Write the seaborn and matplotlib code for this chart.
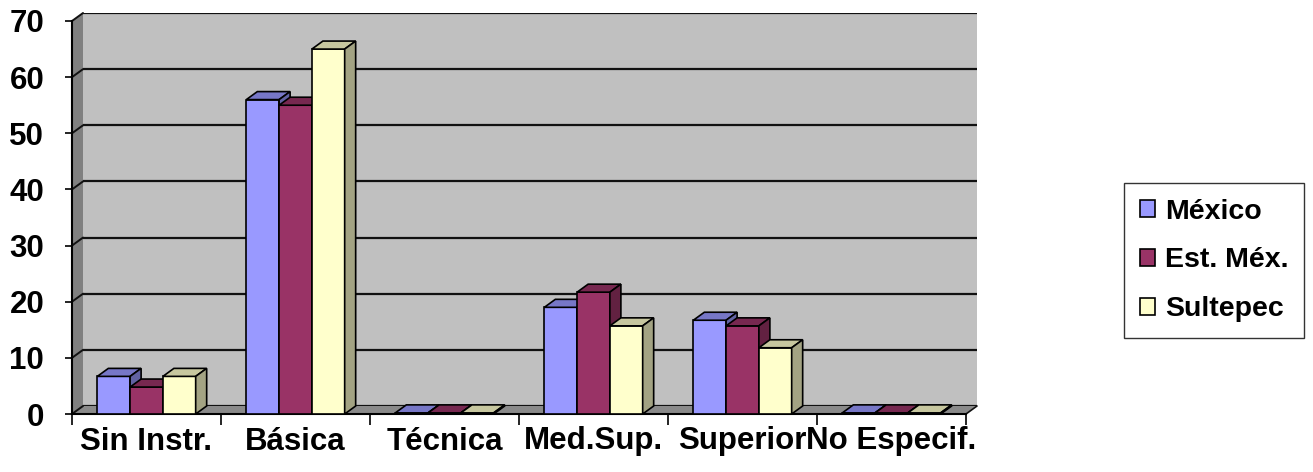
import matplotlib
matplotlib.use("Agg")
import matplotlib.pyplot as plt
from matplotlib.patches import Polygon, Patch
import matplotlib.colors as mcolors
import numpy as np
import pandas as pd
import seaborn as sns

# datos
categories = ["Sin Instr.", "Básica", "Técnica", "Med.Sup.", "Superior", "No Especif."]
series = ["México", "Est. Méx.", "Sultepec"]
mexico = [6.7, 56.0, 0.2, 19.0, 16.7, 0.2]
est_mex = [4.8, 55.0, 0.2, 21.7, 15.7, 0.2]
sultepec = [6.7, 65.0, 0.2, 15.7, 11.8, 0.2]
y_ticks = [0, 10, 20, 30, 40, 50, 60, 70]
colors = ["#9999FF", "#993366", "#FFFFCC"]

df = pd.DataFrame({
    "nivel": categories * 3,
    "serie": np.repeat(series, len(categories)),
    "valor": mexico + est_mex + sultepec,
})

sns.set_style("white")
plt.rcParams["font.family"] = ["Liberation Sans", "DejaVu Sans"]
plt.rcParams["font.weight"] = "bold"
plt.rcParams["text.color"] = "black"
plt.rcParams["xtick.color"] = "black"
plt.rcParams["ytick.color"] = "black"

W, H = 1313, 472
DX, DY = 11, 8  # profundidad 3D en pixeles
fig = plt.figure(figsize=(W / 100, H / 100), dpi=100)

x0, x1, ytop, ybot = 72, 966, 21, 414
pos = [x0 / W, 1 - ybot / H, (x1 - x0) / W, (ybot - ytop) / H]

# pared del fondo
back = fig.add_axes([pos[0] + DX / W, pos[1] + DY / H, pos[2], pos[3]], zorder=0)
back.set_facecolor("#C0C0C0")
back.set_ylim(0, 70)
back.set_yticks(y_ticks)
back.set_xticks([])
back.grid(axis="y", color="#111111", lw=1.6)
back.tick_params(left=False, labelleft=False)
for s in back.spines.values():
    s.set_visible(False)

ax = fig.add_axes(pos, zorder=1)
ax.set_facecolor("none")
sns.barplot(data=df, x="nivel", y="valor", hue="serie", hue_order=series,
            palette=colors, saturation=1, width=0.66, gap=0, errorbar=None,
            edgecolor="black", linewidth=1.2, legend=False, ax=ax)
ax.set_xlim(-0.5, 5.5)
ax.set_ylim(0, 70)

to_data = ax.transData.inverted()


def shifted(x, y):
    px, py = ax.transData.transform((x, y))
    return tuple(to_data.transform((px + DX, py + DY)))


def darker(c, f):
    r, g, b = mcolors.to_rgb(c)
    return (r * f, g * f, b * f)


bars = list(ax.patches)
for i, bar in enumerate(bars):
    k = i // len(categories)
    z = 3 + k
    bar.set_zorder(z)
    bx, bw, bh = bar.get_x(), bar.get_width(), bar.get_height()
    top = [(bx, bh), (bx + bw, bh), shifted(bx + bw, bh), shifted(bx, bh)]
    side = [(bx + bw, 0), (bx + bw, bh), shifted(bx + bw, bh), shifted(bx + bw, 0)]
    ax.add_patch(Polygon(top, facecolor=darker(colors[k], 0.78), edgecolor="black",
                         lw=1.2, zorder=z, clip_on=False))
    ax.add_patch(Polygon(side, facecolor=darker(colors[k], 0.64), edgecolor="black",
                         lw=1.2, zorder=z, clip_on=False))

# pared izquierda y piso
wall = [(-0.5, 0), (-0.5, 70), shifted(-0.5, 70), shifted(-0.5, 0)]
ax.add_patch(Polygon(wall, facecolor="#808080", edgecolor="none", zorder=1, clip_on=False))
floor = [(-0.5, 0), (5.5, 0), shifted(5.5, 0), shifted(-0.5, 0)]
ax.add_patch(Polygon(floor, facecolor="#8A8A8A", edgecolor="none", zorder=1, clip_on=False))
for yv in y_ticks:
    p = shifted(-0.5, yv)
    ax.plot([-0.5, p[0]], [yv, p[1]], color="#111111", lw=1.4, zorder=1.5, clip_on=False)
p = shifted(5.5, 0)
ax.plot([5.5, p[0]], [0, p[1]], color="#111111", lw=1.2, zorder=1.5, clip_on=False)

for s in ["top", "right"]:
    ax.spines[s].set_visible(False)
for s in ["left", "bottom"]:
    ax.spines[s].set_color("black")
    ax.spines[s].set_linewidth(1.5)

ax.set_yticks(y_ticks)
ax.set_xticks(range(len(categories)))
ax.set_xticklabels(categories)
ax.set_xticks(np.arange(-0.5, len(categories), 1), minor=True)
ax.tick_params(axis="y", left=True, length=5, width=1.2, pad=15, labelsize=22.5, colors="black")
ax.tick_params(axis="x", which="major", bottom=True, length=0, pad=9, labelsize=22.5,
               colors="black")
ax.tick_params(axis="x", which="minor", bottom=True, length=8, width=1.2, color="black")
ax.set_xlabel("")
ax.set_ylabel("")

handles = [Patch(facecolor=c, edgecolor="black", lw=1.2) for c in colors]
leg = fig.legend(handles, series, loc="upper left", bbox_to_anchor=(1124 / W, 1 - 183 / H),
                 frameon=True, fancybox=False, edgecolor="black", fontsize=20.5,
                 handlelength=0.55, handleheight=0.55, handletextpad=0.35,
                 labelspacing=0.8, borderpad=0.55, borderaxespad=0)
leg.get_frame().set_linewidth(1.0)
for t in leg.get_texts():
    t.set_color("black")

fig.savefig("out.png", dpi=100)
plt.close(fig)
